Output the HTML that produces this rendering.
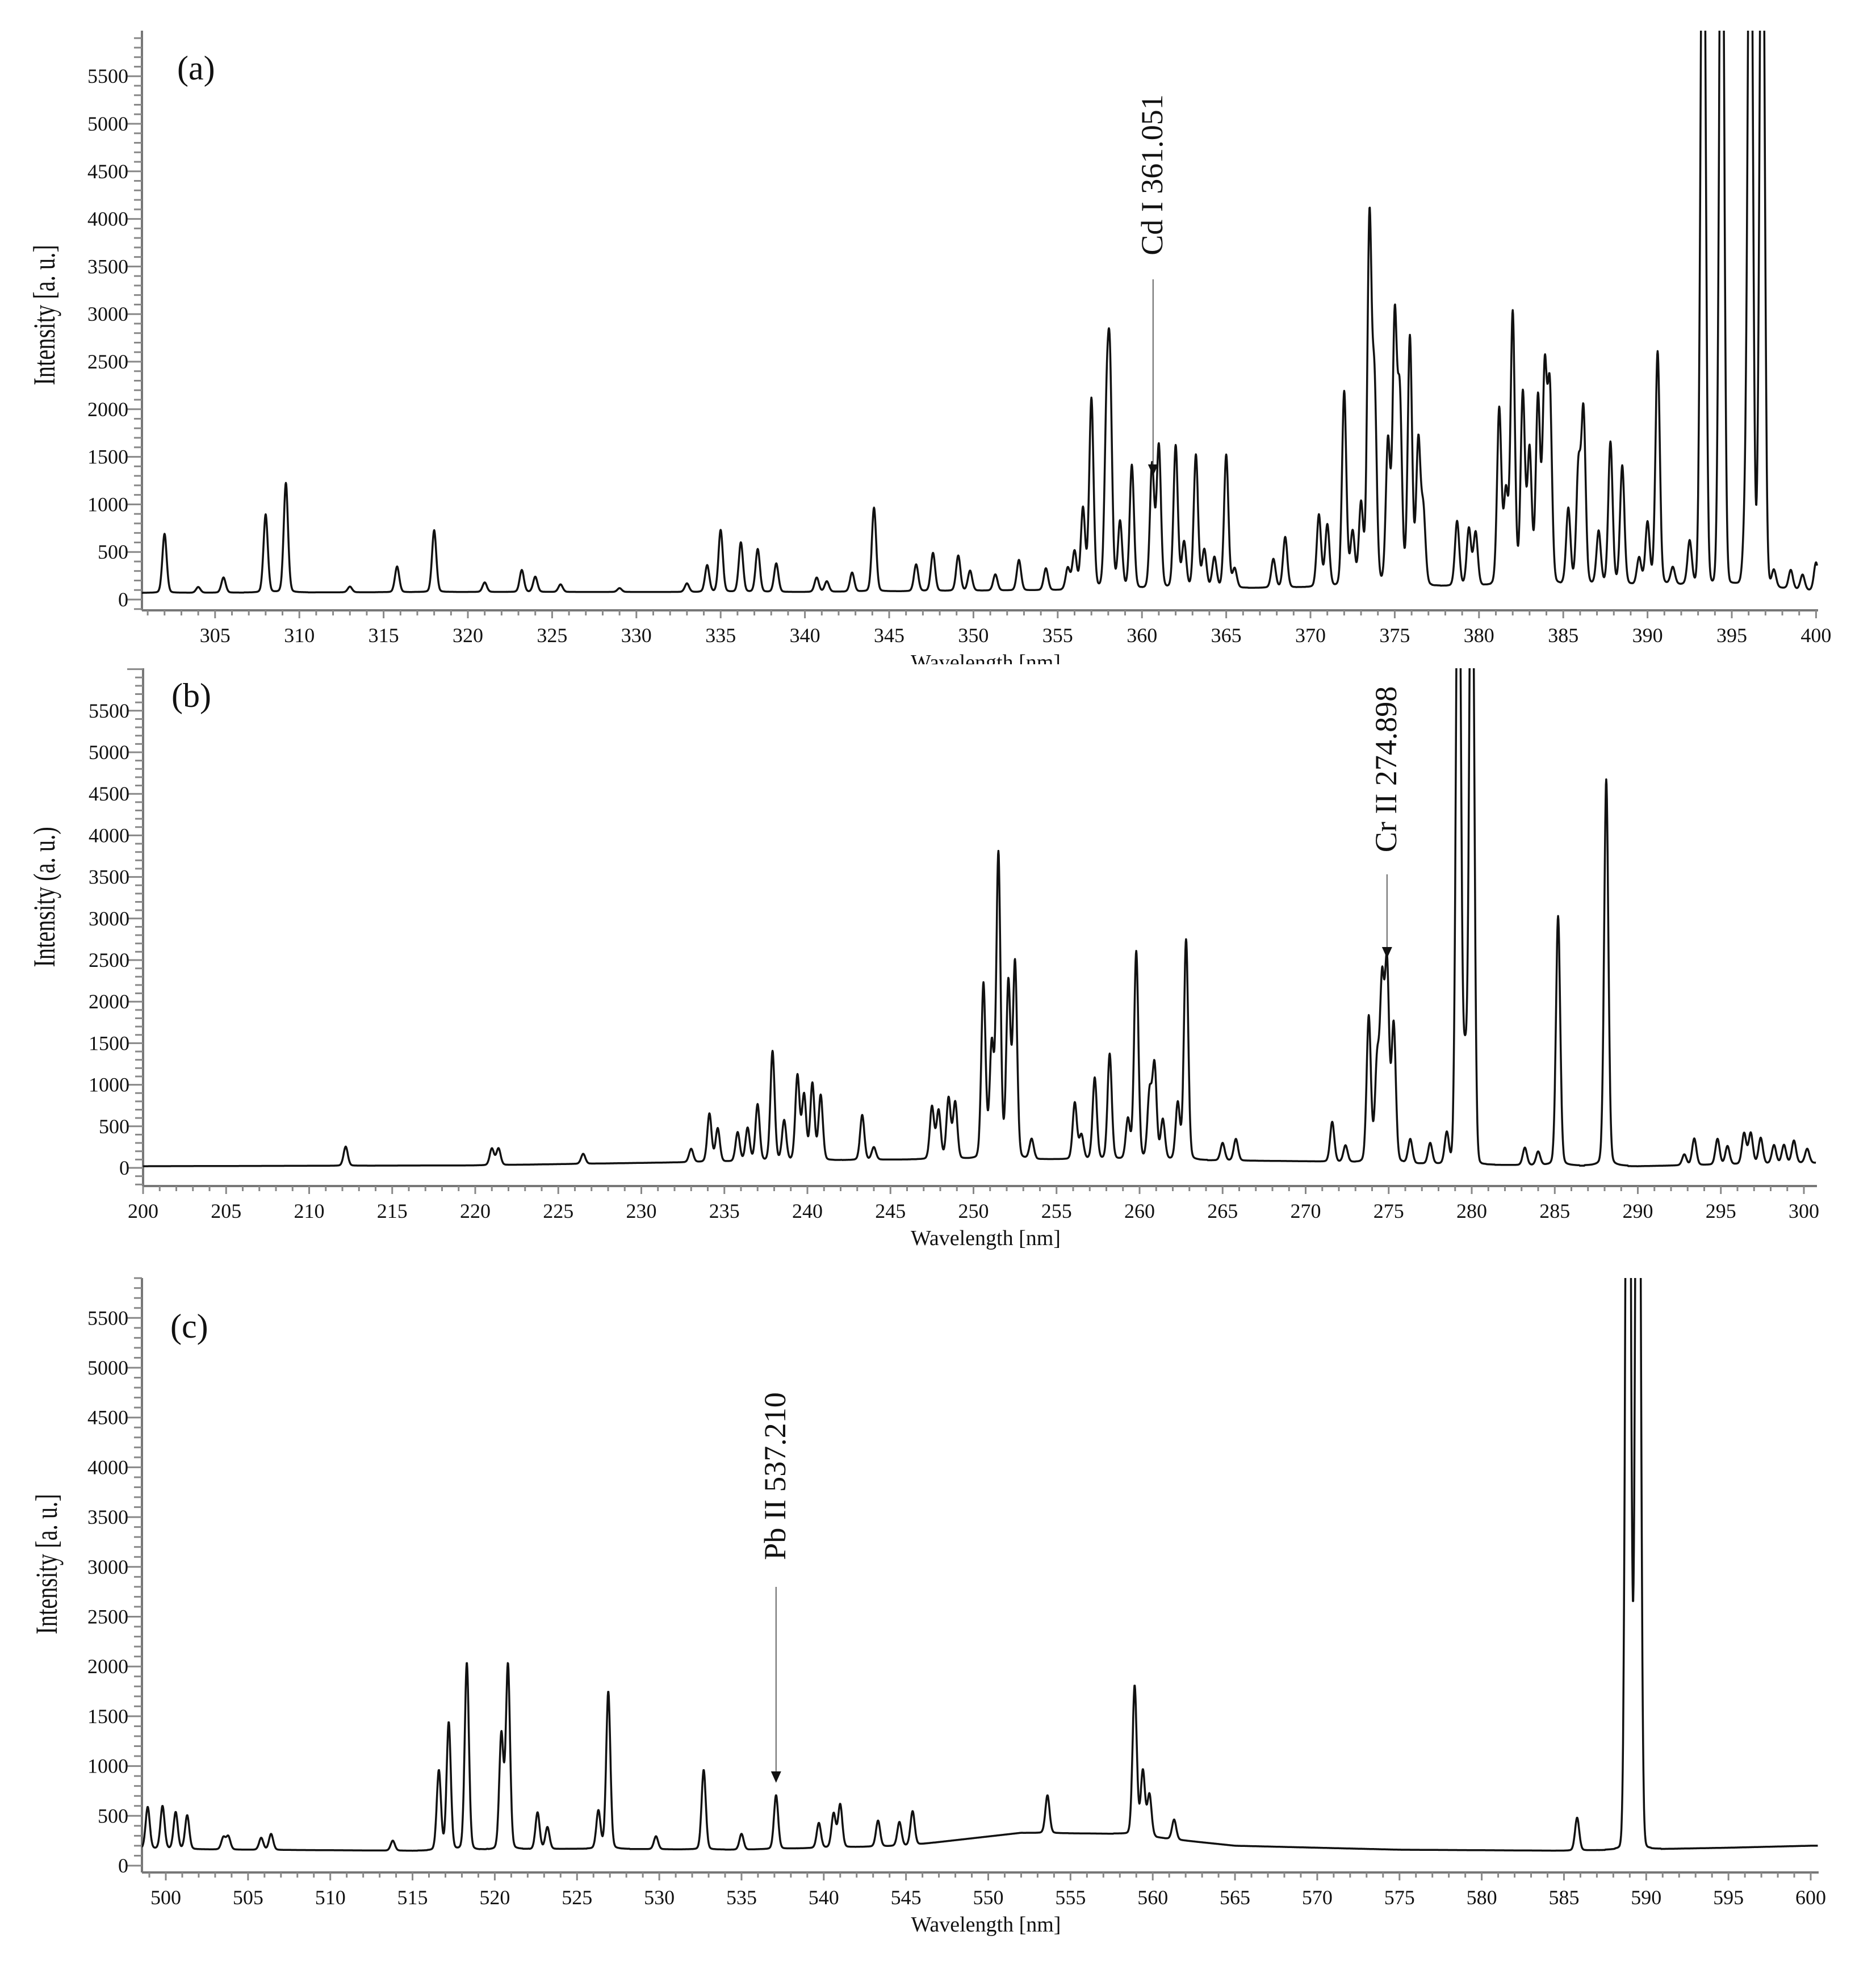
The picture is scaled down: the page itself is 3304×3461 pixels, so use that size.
<!DOCTYPE html>
<html><head><meta charset="utf-8"><style>
html,body{margin:0;padding:0;background:#fff;}
svg{display:block;font-family:"Liberation Serif",serif;}
</style></head><body>
<svg id="fig" width="3304" height="3461" viewBox="0 0 3304 3461" xmlns="http://www.w3.org/2000/svg"></svg>
<script>
// ---- Panel (a) data: 300-400 nm ----
const peaksA_wl = [302.0,304.0,305.5,308.0,309.2,313.0,315.8,318.0,321.0,323.2,324.0,325.5,329.0,333.0,334.2,335.0,336.2,337.2,338.3,340.7,341.3,342.8,344.1,346.6,347.6,349.1,349.8,351.3,352.7,354.3,355.6,356.0,356.5,357.0,357.9,358.1,358.7,359.4,360.6,361.0,362.0,362.5,363.2,363.7,364.3,365.0,365.5,367.8,368.5,370.5,371.0,372.0,372.5,373.0,373.5,373.8,374.6,375.0,375.3,375.9,376.4,376.7,378.7,379.4,379.8,381.2,381.6,382.0,382.6,383.0,383.5,383.9,384.2,385.3,385.9,386.2,387.1,387.8,388.5,389.5,390.0,390.6,391.5,392.5,393.3,394.4,395.8,396.1,396.8,397.5,398.5,399.2,400.0];
const peaksA_int = [620,60,160,820,1150,60,270,650,100,230,160,80,40,90,280,650,520,450,300,150,110,200,880,280,400,370,210,170,320,230,230,400,850,2000,1600,2100,700,1300,1300,1500,1500,480,1400,400,320,1400,200,300,530,760,650,2050,560,850,3800,2000,1500,2750,1900,2600,1500,750,680,600,560,1850,950,2850,2000,1400,1950,2200,2000,800,1200,1800,560,1500,1250,280,650,2450,180,460,9000,9000,650,9000,9000,180,200,160,300];
const baseA_wl = [300,320,340,355,365,375,385,395,400];
const baseA_int = [70,80,80,100,120,140,150,160,90];

// ---- Panel (b) data: 200-300 nm ----
const peaksB_wl = [212.2,221.0,221.4,226.5,233.0,234.1,234.6,235.8,236.4,237.0,237.9,238.6,239.4,239.8,240.3,240.8,243.3,244.0,247.5,247.9,248.5,248.9,250.6,251.1,251.5,252.1,252.5,253.5,256.1,256.5,257.3,258.2,259.3,259.8,260.6,260.9,261.4,262.3,262.8,265.0,265.8,271.6,272.4,273.8,274.3,274.6,274.9,275.3,276.3,277.5,278.5,279.2,279.6,280.0,283.2,284.0,285.2,288.1,292.8,293.4,294.8,295.4,296.4,296.8,297.4,298.2,298.8,299.4,300.2];
const peaksB_int = [230,200,200,120,160,580,400,350,400,680,1320,480,1020,780,920,780,540,150,630,580,730,680,2100,1350,3650,2100,2350,240,680,290,980,1270,480,2500,780,1120,480,680,2650,210,260,480,200,1750,1150,2050,2300,1650,290,250,380,9000,1200,9000,210,160,3000,4650,130,320,310,220,370,370,310,220,220,270,170];
const baseB_wl = [200,220,230,240,250,260,270,280,290,300];
const baseB_int = [20,30,60,90,110,100,80,40,20,60];

// ---- Panel (c) data: 498.5-600 nm ----
const peaksC_wl = [498.9,499.8,500.6,501.3,503.5,503.8,505.8,506.4,513.8,516.6,517.2,518.3,520.4,520.8,522.6,523.2,526.3,526.9,529.8,532.7,535.0,537.1,539.7,540.6,541.0,543.3,544.6,545.4,553.6,558.9,559.4,559.8,561.3,585.8,588.9,589.5];
const peaksC_int = [420,430,370,340,120,130,120,160,100,800,1280,1880,1150,1850,370,220,380,1580,130,800,160,540,250,340,430,260,240,340,380,1500,650,420,200,330,12000,12000];
const baseC_wl = [498.5,505,515,525,535,545,552,558,565,575,585,595,600];
const baseC_int = [170,160,150,170,160,200,330,320,200,160,150,180,200];

// ticks
const yTicks = [0,500,1000,1500,2000,2500,3000,3500,4000,4500,5000,5500];
const xTicksA = [305,310,315,320,325,330,335,340,345,350,355,360,365,370,375,380,385,390,395,400];
const xTicksB = [200,205,210,215,220,225,230,235,240,245,250,255,260,265,270,275,280,285,290,295,300];
const xTicksC = [500,505,510,515,520,525,530,535,540,545,550,555,560,565,570,575,580,585,590,595,600];

const NS = "http://www.w3.org/2000/svg";
const svg = document.getElementById('fig');
function mk(tag, attrs, parent){
  const e = document.createElementNS(NS, tag);
  for (const k in attrs) e.setAttribute(k, attrs[k]);
  (parent||svg).appendChild(e);
  return e;
}
function interp(xs, ys, x){
  if (x <= xs[0]) return ys[0];
  for (let i=1;i<xs.length;i++){ if (x <= xs[i]) { const t=(x-xs[i-1])/(xs[i]-xs[i-1]); return ys[i-1]+t*(ys[i]-ys[i-1]); } }
  return ys[ys.length-1];
}

function panel(cfg){
  const g = mk('g', {});
  
  
  const X = v => cfg.x0px + (v - cfg.x0) * cfg.pxPerNm;
  const Y = v => cfg.y0px - v * cfg.pxPer500 / 500;
  const cid = 'clip-' + cfg.name;
  const defs = mk('defs', {}, g);
  const cp = mk('clipPath', {id: cid}, defs);
  mk('rect', {x: cfg.axisX, y: cfg.axisTop, width: cfg.axisRight - cfg.axisX, height: cfg.axisBottom - cfg.axisTop}, cp);
  const ya = mk('line', {x1: cfg.axisX, y1: cfg.axisTop, x2: cfg.axisX, y2: cfg.axisBottom, stroke: '#777', 'stroke-width': 4}, g);
  
  
  const minV = (cfg.y0px - cfg.axisBottom) / cfg.pxPer500 * 500;
  const maxV = (cfg.y0px - cfg.axisTop) / cfg.pxPer500 * 500;
  for (let v = Math.ceil(minV/100)*100; v <= maxV; v += 100){
    const major = v % 500 === 0;
    mk('line', {x1: cfg.axisX - (major?28:14), y1: Y(v), x2: cfg.axisX, y2: Y(v), stroke: '#888', 'stroke-width': 3}, g);
  }
  yTicks.forEach(v => {
    const t = mk('text', {x: cfg.axisX - 24, y: Y(v) + 12, 'text-anchor': 'end', 'font-size': 36, fill: '#111'}, g);
    t.textContent = v;
    
    
  });
  const xa = mk('line', {x1: cfg.axisX, y1: cfg.axisBottom, x2: cfg.axisRight, y2: cfg.axisBottom, stroke: '#777', 'stroke-width': 4}, g);
  
  
  for (let w = Math.ceil(cfg.x0); X(w) <= cfg.axisRight + 1; w++){
    const major = w % 5 === 0;
    mk('line', {x1: X(w), y1: cfg.axisBottom, x2: X(w), y2: cfg.axisBottom + (major?14:9), stroke: '#888', 'stroke-width': 3}, g);
  }
  cfg.xTicks.forEach(v => {
    const t = mk('text', {x: X(v), y: cfg.axisBottom + 56, 'text-anchor': 'middle', 'font-size': 36, fill: '#111'}, g);
    t.textContent = v;
    
    
  });
  const yt = mk('text', {x: 0, y: 0, transform: `translate(${cfg.yTitleX},${cfg.yTitleY}) rotate(-90) scale(0.75,1)`, 'text-anchor': 'middle', 'font-size': 54, fill: '#111'}, g);
  yt.textContent = cfg.yTitle;
  
  
  const xt = mk('text', {x: (cfg.axisX + cfg.axisRight)/2 + 10, y: cfg.axisBottom + 104, 'text-anchor': 'middle', 'font-size': 38, fill: '#111'}, g);
  if (cfg.xTitleClip) xt.setAttribute('clip-path', 'url(#xt-' + cfg.name + ')');
  xt.textContent = 'Wavelength [nm]';
  
  
  if (cfg.xTitleClip){
    const c2 = mk('clipPath', {id: 'xt-' + cfg.name}, defs);
    mk('rect', {x: 0, y: 0, width: 3304, height: cfg.xTitleClip}, c2);
  }
  const pl = mk('text', {x: cfg.labelX, y: cfg.labelY, 'font-size': 60, fill: '#111'}, g);
  pl.textContent = cfg.label;
  
  
  const lo = cfg.x0, hi = cfg.x0 + (cfg.axisRight - cfg.x0px) / cfg.pxPerNm - 0.05;
  let d = '';
  for (let w = lo; w <= hi; w += 0.02){
    let v = interp(cfg.baseWl, cfg.baseInt, w);
    for (let i=0;i<cfg.pWl.length;i++){
      const big = cfg.pInt[i] > 5000;
      const s = big ? 0.14 : 0.13;
      const lf = big ? 0.03 : 0.15;
      const dx = (w - cfg.pWl[i]) / s;
      if (Math.abs(dx) < 10) v += cfg.pInt[i] * ((1-lf)*Math.exp(-0.5*dx*dx) + lf/(1+dx*dx));
    }
    d += (d ? 'L' : 'M') + X(w).toFixed(1) + ',' + Y(v).toFixed(1);
  }
  const p = mk('path', {d: d, fill: 'none', stroke: '#111', 'stroke-width': 3.5, 'stroke-linejoin': 'round', 'clip-path': `url(#${cid})`}, g);
  
  
  const ax = X(cfg.annWl);
  const at = mk('text', {x: 0, y: 0, transform: `translate(${ax + 16},${cfg.annTextY}) rotate(-90)`, 'text-anchor': 'middle', 'font-size': 54, fill: '#111'}, g);
  at.textContent = cfg.annText;
  
  
  const al = mk('line', {x1: ax, y1: cfg.annLineTop, x2: ax, y2: cfg.annArrowY - 16, stroke: '#666', 'stroke-width': 2}, g);
  
  
  mk('path', {d: `M${ax-9},${cfg.annArrowY-20} L${ax+9},${cfg.annArrowY-20} L${ax},${cfg.annArrowY} Z`, fill: '#111'}, g);
}

panel({name:'panel-a', label:'(a)', labelX:312, labelY:140, x0:300.66, x0px:250, pxPerNm:29.68, y0px:1056, pxPer500:83.8,
  axisX:250, axisTop:54, axisBottom:1075, axisRight:3202, xTicks:xTicksA, yTitle:'Intensity [a. u.]', yTitleX:96, yTitleY:555,
  xTitleClip:1170, pWl:peaksA_wl, pInt:peaksA_int, baseWl:baseA_wl, baseInt:baseA_int,
  annWl:360.66, annText:'Cd I 361.051', annTextY:308, annLineTop:492, annArrowY:838});
panel({name:'panel-b', label:'(b)', labelX:302, labelY:1245, x0:200, x0px:252, pxPerNm:29.25, y0px:2057, pxPer500:73.2,
  axisX:252, axisTop:1177, axisBottom:2089, axisRight:3200, xTicks:xTicksB, yTitle:'Intensity (a. u.)', yTitleX:96, yTitleY:1580,
  pWl:peaksB_wl, pInt:peaksB_int, baseWl:baseB_wl, baseInt:baseB_int,
  annWl:274.9, annText:'Cr II 274.898', annTextY:1355, annLineTop:1540, annArrowY:1688});
panel({name:'panel-c', label:'(c)', labelX:300, labelY:2356, x0:498.55, x0px:250, pxPerNm:28.97, y0px:3286, pxPer500:87.7,
  axisX:250, axisTop:2251, axisBottom:3298, axisRight:3203, xTicks:xTicksC, yTitle:'Intensity [a. u.]', yTitleX:100, yTitleY:2755,
  pWl:peaksC_wl, pInt:peaksC_int, baseWl:baseC_wl, baseInt:baseC_int,
  annWl:537.1, annText:'Pb II 537.210', annTextY:2600, annLineTop:2795, annArrowY:3140});
</script>
</body></html>
